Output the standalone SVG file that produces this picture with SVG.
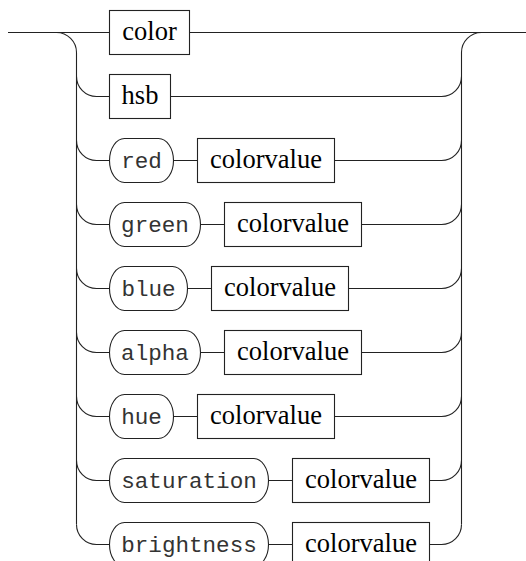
<svg xmlns="http://www.w3.org/2000/svg" width="526" height="561" viewBox="0 0 526 561">
<style>
.ln{fill:none;stroke:#222;stroke-width:1.1}
.nt{fill:#fff;stroke:#222;stroke-width:1.1}
.t{fill:#fff;stroke:#222;stroke-width:1.1}
.ntx{font-family:'Liberation Serif','Times New Roman',serif;font-size:26.5px;fill:#000;text-anchor:middle}
.tx{font-family:'Liberation Mono','Courier New',monospace;font-size:22.6px;fill:#333;text-anchor:middle}
</style>
<g id="connectors">
<path class="ln" d="M8,32.5 H526"/>
<path class="ln" d="M56.5,32.5 A20,20 0 0 1 76.5,52.5 V524.5"/>
<path class="ln" d="M481.5,32.5 A20,20 0 0 0 461.5,52.5 V524.5"/>
<path class="ln" d="M76.5,76.5 A20,20 0 0 0 96.5,96.5 H441.5 A20,20 0 0 0 461.5,76.5"/>
<path class="ln" d="M76.5,140.5 A20,20 0 0 0 96.5,160.5 H441.5 A20,20 0 0 0 461.5,140.5"/>
<path class="ln" d="M76.5,204.5 A20,20 0 0 0 96.5,224.5 H441.5 A20,20 0 0 0 461.5,204.5"/>
<path class="ln" d="M76.5,268.5 A20,20 0 0 0 96.5,288.5 H441.5 A20,20 0 0 0 461.5,268.5"/>
<path class="ln" d="M76.5,332.5 A20,20 0 0 0 96.5,352.5 H441.5 A20,20 0 0 0 461.5,332.5"/>
<path class="ln" d="M76.5,396.5 A20,20 0 0 0 96.5,416.5 H441.5 A20,20 0 0 0 461.5,396.5"/>
<path class="ln" d="M76.5,460.5 A20,20 0 0 0 96.5,480.5 H441.5 A20,20 0 0 0 461.5,460.5"/>
<path class="ln" d="M76.5,524.5 A20,20 0 0 0 96.5,544.5 H441.5 A20,20 0 0 0 461.5,524.5"/>
</g>
<g id="n-color"><rect class="nt" x="109.5" y="10.5" width="80" height="44"/><text class="ntx" x="149.5" y="39.5">color</text></g>
<g id="n-hsb"><rect class="nt" x="109.5" y="74.5" width="61" height="44"/><text class="ntx" x="140" y="103.5">hsb</text></g>

<g id="t-red"><rect class="t" x="109.5" y="138.5" width="64" height="44" rx="15" ry="22"/><text class="tx" x="141.5" y="167.5">red</text></g>
<g id="n-red-cv"><rect class="nt" x="197.5" y="138.5" width="137" height="44"/><text class="ntx" x="266" y="167.5">colorvalue</text></g>

<g id="t-green"><rect class="t" x="109.5" y="202.5" width="91" height="44" rx="15" ry="22"/><text class="tx" x="155" y="231.5">green</text></g>
<g id="n-green-cv"><rect class="nt" x="224.5" y="202.5" width="137" height="44"/><text class="ntx" x="293" y="231.5">colorvalue</text></g>

<g id="t-blue"><rect class="t" x="109.5" y="266.5" width="78" height="44" rx="15" ry="22"/><text class="tx" x="148.5" y="295.5">blue</text></g>
<g id="n-blue-cv"><rect class="nt" x="211.5" y="266.5" width="137" height="44"/><text class="ntx" x="280" y="295.5">colorvalue</text></g>

<g id="t-alpha"><rect class="t" x="109.5" y="330.5" width="91" height="44" rx="15" ry="22"/><text class="tx" x="155" y="359.5">alpha</text></g>
<g id="n-alpha-cv"><rect class="nt" x="224.5" y="330.5" width="137" height="44"/><text class="ntx" x="293" y="359.5">colorvalue</text></g>

<g id="t-hue"><rect class="t" x="109.5" y="394.5" width="64" height="44" rx="15" ry="22"/><text class="tx" x="141.5" y="423.5">hue</text></g>
<g id="n-hue-cv"><rect class="nt" x="197.5" y="394.5" width="137" height="44"/><text class="ntx" x="266" y="423.5">colorvalue</text></g>

<g id="t-saturation"><rect class="t" x="109.5" y="458.5" width="159" height="44" rx="15" ry="22"/><text class="tx" x="189" y="487.5">saturation</text></g>
<g id="n-saturation-cv"><rect class="nt" x="292.5" y="458.5" width="137" height="44"/><text class="ntx" x="361" y="487.5">colorvalue</text></g>

<g id="t-brightness"><rect class="t" x="109.5" y="522.5" width="159" height="44" rx="15" ry="22"/><text class="tx" x="189" y="551.5">brightness</text></g>
<g id="n-brightness-cv"><rect class="nt" x="292.5" y="522.5" width="137" height="44"/><text class="ntx" x="361" y="551.5">colorvalue</text></g>
</svg>
